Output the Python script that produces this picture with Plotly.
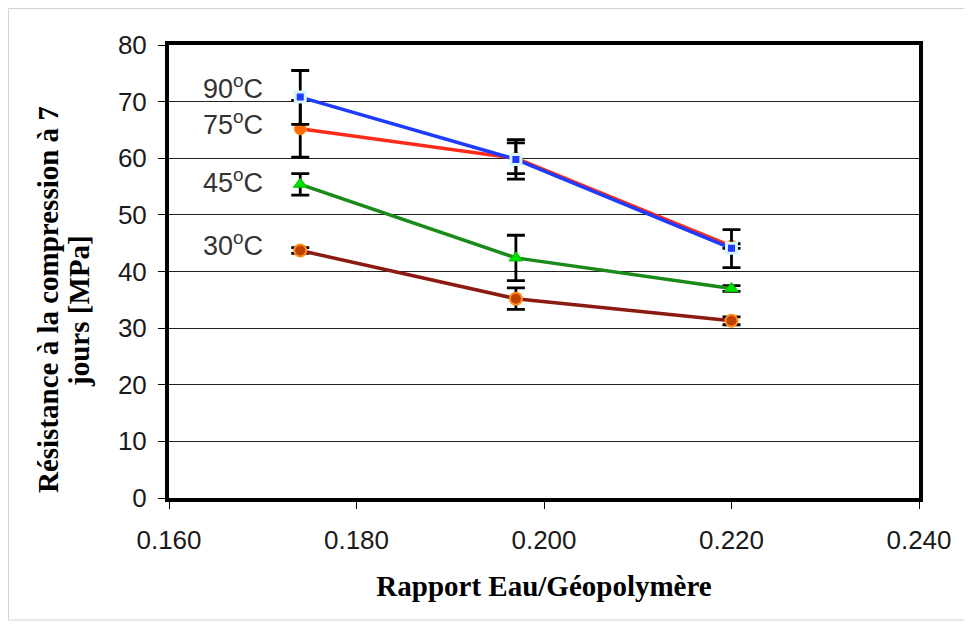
import plotly.graph_objects as go

ratio = [0.174, 0.197, 0.220]
labels = ["90<sup>o</sup>C", "75<sup>o</sup>C", "45<sup>o</sup>C", "30<sup>o</sup>C"]
r90 = [70.8, 59.8, 44.1]
r75 = [65.2, 60.0, 44.5]
r45 = [55.4, 42.4, 37.0]
r30 = [43.7, 35.2, 31.3]
e90_up = [4.7, 3.5, 3.3]
e90_dn = [4.8, 3.5, 3.4]
e75 = [5.0, 2.7, 0.4]
e45 = [1.9, 4.0, 0.5]
e30 = [0.5, 1.9, 0.7]
label_y = [72.6, 66.2, 55.9, 44.8]
xticks = [0.160, 0.180, 0.200, 0.220, 0.240]
yticks = [0, 10, 20, 30, 40, 50, 60, 70, 80]
ytitle_lines = ["<b>Résistance à la compression à 7</b>", "<b>jours [MPa]</b>"]

fig = go.Figure()

def err(up, dn=None):
    d = dict(type="data", array=up, visible=True, color="black", thickness=2.8, width=9)
    if dn is not None:
        d["symmetric"] = False
        d["arrayminus"] = dn
    return d

fig.add_trace(go.Scatter(x=ratio, y=r30, mode="lines+markers",
    line=dict(color="#8B1A10", width=3.5),
    marker=dict(symbol="circle", size=12, color="#C04000", line=dict(color="#FF8C1A", width=2)),
    error_y=err(e30)))
fig.add_trace(go.Scatter(x=ratio, y=r45, mode="lines+markers",
    line=dict(color="#1A8A1A", width=3.5),
    marker=dict(symbol="triangle-up", size=12, color="#00E000", line=dict(color="#00C000", width=1)),
    error_y=err(e45)))
fig.add_trace(go.Scatter(x=ratio, y=r75, mode="lines+markers",
    line=dict(color="#FF2A1A", width=3.5),
    marker=dict(symbol="circle", size=12, color="#FF6A00", line=dict(color="#FF9A30", width=1)),
    error_y=err(e75)))
fig.add_trace(go.Scatter(x=ratio, y=r90, mode="lines+markers",
    line=dict(color="#1F3BFF", width=3.5),
    marker=dict(symbol="square", size=10, color="#1F3BFF", line=dict(color="#D8F4FF", width=3)),
    error_y=err(e90_up, e90_dn)))

for t, yy in zip(labels, label_y):
    fig.add_annotation(x=0.1668, y=yy, xref="x", yref="y", text=t, showarrow=False,
                       font=dict(family="Liberation Sans, Arial", size=27, color="#333333"))

title_font = dict(family="Liberation Serif, Times New Roman", size=29, color="black")

for t, px, py in zip(ytitle_lines, [-0.1613, -0.1200], [0.437, 0.413]):
    fig.add_annotation(x=px, y=py, xref="paper", yref="paper", text=t, showarrow=False,
                       textangle=-90, font=title_font, xanchor="center", yanchor="middle")

fig.add_shape(type="rect", xref="paper", yref="paper",
              x0=-0.2140, x1=1.0627, y0=-0.2693, y1=1.0806,
              line=dict(color="#d4d4d4", width=1), layer="below")

axis_font = dict(family="Liberation Sans, Arial", size=26, color="#1a1a1a")

fig.update_layout(
    width=964, height=616,
    margin=dict(l=161, r=53, t=37, b=126),
    paper_bgcolor="white", plot_bgcolor="white",
    showlegend=False,
    xaxis=dict(range=[0.160, 0.240], tickvals=xticks, tickformat=".3f",
               showgrid=False, zeroline=False,
               showline=True, linecolor="black", linewidth=4, mirror=True,
               ticks="outside", ticklen=7, tickcolor="black", tickwidth=1,
               ticklabelstandoff=9,
               tickfont=axis_font,
               title=dict(text="<b>Rapport Eau/Géopolymère</b>", font=title_font, standoff=22)),
    yaxis=dict(range=[0, 80], tickvals=yticks,
               showgrid=True, gridcolor="#222222", gridwidth=1, zeroline=False,
               showline=True, linecolor="black", linewidth=4, mirror=True,
               ticks="outside", ticklen=7, tickcolor="black", tickwidth=1,
               ticklabelstandoff=6,
               tickfont=axis_font),
)

fig.write_html("out.html")
